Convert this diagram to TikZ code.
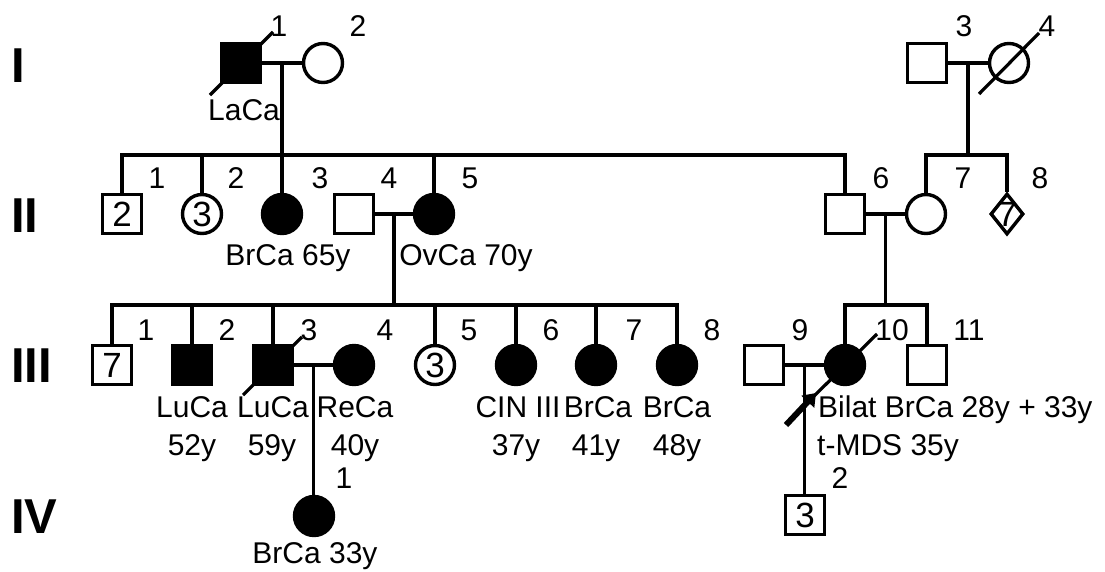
\documentclass[tikz,border=0pt]{standalone}
\usepackage{fontspec}
\setmainfont{Liberation Sans}
\usetikzlibrary{shapes.geometric,arrows.meta,calc}

\begin{document}
\begin{tikzpicture}[x=1pt,y=-1pt,
  person/.style={draw, line width=3.4pt, inner sep=0pt, fill=white,
                 font=\fontsize{35}{35}\selectfont},
  male/.style={person, rectangle, minimum size=39.5pt},
  female/.style={person, circle, minimum size=39pt},
  unknownsex/.style={person, diamond, minimum width=33pt, minimum height=41pt},
  affected/.style={fill=black},
  link/.style={line width=3.4pt, line join=miter},
  dead/.style={line width=3.2pt},
  lbl/.style={inner sep=0pt, anchor=base, font=\fontsize{30}{30}\selectfont},
  lbll/.style={lbl, anchor=base west},
  gen/.style={inner sep=0pt, anchor=base west, font=\fontsize{49}{49}\selectfont\bfseries},
]
\useasboundingbox (0,0) rectangle (1105,571);

% generation numerals
\node[gen] (gI)   at (11,82)  {I};
\node[gen] (gII)  at (11,232) {II};
\node[gen] (gIII) at (11,382) {III};
\node[gen] (gIV)  at (11,533) {IV};

% sibship levels
\coordinate (s2) at (0,155);
\coordinate (s3) at (0,305);

% ---------- generation I ----------
\node[male,affected] (I1) at (241,63) {};
\node[female]        (I2) at (323,63) {};
\node[male]          (I3) at (927,63) {};
\node[female]        (I4) at (1009,63) {};

% ---------- generation II ----------
\node[male]            (II1) at (122,214) {2};
\node[female]          (II2) at (202,214) {3};
\node[female,affected] (II3) at (282,214) {};
\node[male]            (II4) at (354,214) {};
\node[female,affected] (II5) at (434,214) {};
\node[male]            (II6) at (845,214) {};
\node[female]          (II7) at (926,214) {};
\node[unknownsex]      (II8) at (1007,214) {};
\node[font=\fontsize{35}{35}\selectfont, inner sep=0pt] (II8n) at (II8.center) {7};

% ---------- generation III ----------
\node[male]            (III1)  at (112,365) {7};
\node[male,affected]   (III2)  at (192,365) {};
\node[male,affected]   (III3)  at (273,365) {};
\node[female,affected] (III4)  at (354,365) {};
\node[female]          (III5)  at (435,365) {3};
\node[female,affected] (III6)  at (516,365) {};
\node[female,affected] (III7)  at (596,365) {};
\node[female,affected] (III8)  at (677,365) {};
\node[male]            (III9)  at (764,365) {};
\node[female,affected] (III10) at (845,365) {};
\node[male]            (III11) at (927,365) {};

% ---------- generation IV ----------
\node[female,affected] (IV1) at (314,516) {};
\node[male]            (IV2) at (805,515) {3};

% ---------- couples, descent and sibships ----------
\draw[link] (I1.east) -- (I2.west);
\coordinate (m1) at ($(I1.east)!0.5!(I2.west)$);
\draw[link] (m1) -- (m1 |- II3.north);
\draw[link] (II1.north) -- (II1.north |- s2) -- (II6.north |- s2) -- (II6.north);
\draw[link] (II2.north) -- (II2.north |- s2);
\draw[link] (II5.north) -- (II5.north |- s2);

\draw[link] (I3.east) -- (I4.west);
\coordinate (m2) at ($(I3.east)!0.5!(I4.west)$);
\draw[link] (m2) -- (m2 |- s2);
\draw[link] (II7.north) -- (II7.north |- s2) -- (II8.north |- s2) -- (II8.north);

\draw[link] (II4.east) -- (II5.west);
\coordinate (m3) at ($(II4.east)!0.5!(II5.west)$);
\draw[link] (m3) -- (m3 |- s3);
\draw[link] (III1.north) -- (III1.north |- s3) -- (III8.north |- s3) -- (III8.north);
\foreach \c in {III2,III3,III5,III6,III7}
  \draw[link] (\c.north) -- (\c.north |- s3);

\draw[link] (II6.east) -- (II7.west);
\coordinate (m4) at ($(II6.east)!0.5!(II7.west)$);
\draw[link] (m4) -- (m4 |- s3);
\draw[link] (III10.north) -- (III10.north |- s3) -- (III11.north |- s3) -- (III11.north);

\draw[link] (III3.east) -- (III4.west);
\coordinate (m5) at ($(III3.east)!0.5!(III4.west)$);
\draw[link] (m5) -- (m5 |- IV1.north);

\draw[link] (III9.east) -- (III10.west);
\coordinate (m6) at ($(III9.east)!0.5!(III10.west)$);
\draw[link] (m6) -- (m6 |- IV2.north);

% ---------- deceased marks ----------
\draw[dead] ($(I1.center)+(-31,32)$) -- ($(I1.center)+(32,-31)$);
\draw[dead] ($(I4.center)+(-30,31)$) -- ($(I4.center)+(30,-30)$);
\draw[dead] ($(III3.center)+(-30,30)$) -- ($(III3.center)+(29,-28)$);
\draw[dead] ($(III10.center)+(-34,34)$) -- ($(III10.center)+(32,-31)$);

% proband arrow
\coordinate (pa) at (786,425);
\coordinate (pb) at (816,393);
\draw[line width=6pt, -{Triangle[length=12pt,width=17pt]}] (pa) -- (pb);

% ---------- individual numbers ----------
\node[lbl] (nI1) at (279,36) {1};
\node[lbl] (nI2) at (358,36) {2};
\node[lbl] (nI3) at (964,36) {3};
\node[lbl] (nI4) at (1047,36) {4};

\node[lbl] (nII1) at (157,188) {1};
\node[lbl] (nII2) at (236,188) {2};
\node[lbl] (nII3) at (320,188) {3};
\node[lbl] (nII4) at (389,188) {4};
\node[lbl] (nII5) at (470,188) {5};
\node[lbl] (nII6) at (881,188) {6};
\node[lbl] (nII7) at (963,188) {7};
\node[lbl] (nII8) at (1040,188) {8};

\node[lbl] (nIII1)  at (146,340) {1};
\node[lbl] (nIII2)  at (227,340) {2};
\node[lbl] (nIII3)  at (309,340) {3};
\node[lbl] (nIII4)  at (385,340) {4};
\node[lbl] (nIII5)  at (469,340) {5};
\node[lbl] (nIII6)  at (551,340) {6};
\node[lbl] (nIII7)  at (634,340) {7};
\node[lbl] (nIII8)  at (712,340) {8};
\node[lbl] (nIII9)  at (800,340) {9};
\node[lbl] (nIII10) at (892,340) {10};
\node[lbl] (nIII11) at (969,340) {11};

\node[lbl] (nIV1) at (344,488) {1};
\node[lbl] (nIV2) at (840,488) {2};

% ---------- clinical annotations ----------
\node[lbl] (dI1) at (244,120) {LaCa};
\node[lbl] (dII3) at (288,265) {BrCa 65y};
\node[lbl] (dII5) at (466,265) {OvCa 70y};

\node[lbl] (dIII2)  at (192,417) {LuCa};
\node[lbl] (dIII3)  at (273,417) {LuCa};
\node[lbl] (dIII4)  at (355,417) {ReCa};
\node[lbl] (dIII6)  at (518,417) {CIN III};
\node[lbl] (dIII7)  at (598,417) {BrCa};
\node[lbl] (dIII8)  at (677,417) {BrCa};
\node[lbl] (aIII2)  at (192,455) {52y};
\node[lbl] (aIII3)  at (272,455) {59y};
\node[lbl] (aIII4)  at (355,455) {40y};
\node[lbl] (aIII6)  at (516,455) {37y};
\node[lbl] (aIII7)  at (596,455) {41y};
\node[lbl] (aIII8)  at (677,455) {48y};
\node[lbll] (dIII10) at (818,417) {Bilat BrCa 28y + 33y};
\node[lbll] (eIII10) at (817,455) {t-MDS 35y};

\node[lbl] (dIV1) at (315,563) {BrCa 33y};
\end{tikzpicture}
\end{document}
